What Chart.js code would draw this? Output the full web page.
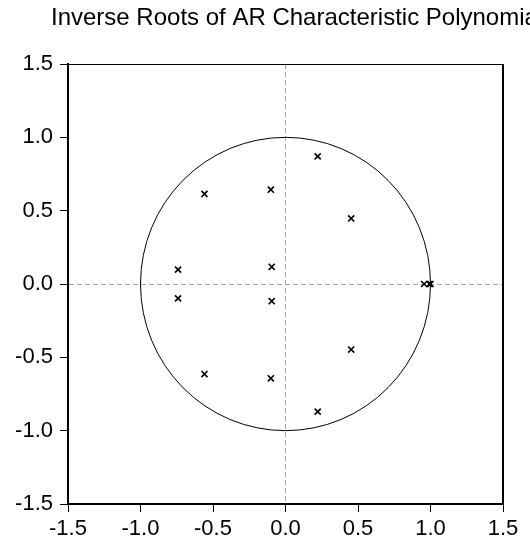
<!DOCTYPE html>
<html>
<head>
    <title>Inverse Roots of AR Characteristic Polynomial</title>
    <script src="https://cdn.jsdelivr.net/npm/chart.js"></script>
    <style>
        body {
            margin: 0;
            padding: 0;
            background-color: #fff;
        }

        #box {
            width: 530px;
            height: 543px;
            position: relative;
        }
    </style>
</head>
<body>
    <div id="box">
        <canvas id="myChart"></canvas>
    </div>

    <script>
        var titulo = 'Inverse Roots of AR Characteristic Polynomial';

        // parte real e imaginaria das raizes inversas
        var rootRe = [0.222, 0.222, -0.559, -0.559, -0.101, -0.101, -0.741, -0.741, -0.095, -0.095, 0.453, 0.453, 0.956, 1.0, 0.993];
        var rootIm = [0.870, -0.870, 0.614, -0.614, 0.643, -0.643, 0.098, -0.098, 0.117, -0.117, 0.447, -0.447, 0.0, 0.0, 0.0];

        var tickValues = [-1.5, -1.0, -0.5, 0.0, 0.5, 1.0, 1.5];

        var pontos = [];
        for (var i = 0; i < rootRe.length; i++) {
            pontos.push({ x: rootRe[i], y: rootIm[i] });
        }

        var fonte = "'Liberation Sans', Arial, sans-serif";

        // titulo, moldura e circulo unitario
        var extras = {
            id: 'extras',
            beforeDatasetsDraw: function (chart) {
                var ctx = chart.ctx;
                var sx = chart.scales.x;
                var sy = chart.scales.y;
                var cx = sx.getPixelForValue(0);
                var cy = sy.getPixelForValue(0);
                var rx = sx.getPixelForValue(1) - cx;
                var ry = cy - sy.getPixelForValue(1);
                ctx.save();
                ctx.strokeStyle = '#000';
                ctx.lineWidth = 1;
                ctx.beginPath();
                ctx.ellipse(cx, cy, rx, ry, 0, 0, Math.PI * 2);
                ctx.stroke();
                ctx.restore();
            },
            afterDraw: function (chart) {
                var ctx = chart.ctx;
                var a = chart.chartArea;
                ctx.save();
                ctx.strokeStyle = '#000';
                ctx.lineWidth = 1;
                ctx.beginPath();
                ctx.moveTo(a.left, a.top + 0.5);
                ctx.lineTo(a.right, a.top + 0.5);
                ctx.stroke();
                ctx.lineWidth = 2;
                ctx.beginPath();
                ctx.moveTo(a.right, a.top);
                ctx.lineTo(a.right, a.bottom);
                ctx.stroke();

                ctx.fillStyle = '#000';
                ctx.font = '24px ' + fonte;
                ctx.textAlign = 'left';
                ctx.textBaseline = 'alphabetic';
                ctx.fillText(titulo, 51, 25);
                ctx.restore();
            }
        };

        function eixo(tamanho) {
            return {
                type: 'linear',
                min: -1.5,
                max: 1.5,
                afterBuildTicks: function (s) {
                    s.ticks = tickValues.map(function (v) { return { value: v }; });
                },
                grid: {
                    color: function (c) {
                        return c.tick && c.tick.value === 0 ? '#a6a6a6' : 'rgba(0,0,0,0)';
                    },
                    lineWidth: 1,
                    tickColor: '#000',
                    tickWidth: 1,
                    tickLength: 8
                },
                border: {
                    display: true,
                    color: '#000',
                    width: 2,
                    dash: [5, 3]
                },
                ticks: {
                    autoSkip: false,
                    maxRotation: 0,
                    color: '#000',
                    padding: tamanho,
                    font: { family: fonte, size: 22 },
                    callback: function (v) { return Number(v).toFixed(1); }
                }
            };
        }

        var eixoX = eixo(4);
        eixoX.afterFit = function (s) { s.height = 39; };
        var eixoY = eixo(7);
        eixoY.afterFit = function (s) { s.width = 68; };

        var ctx = document.getElementById('myChart').getContext('2d');
        var myChart = new Chart(ctx, {
            type: 'scatter',
            data: {
                datasets: [{
                    label: 'Inverse roots',
                    data: pontos,
                    pointStyle: 'crossRot',
                    pointRadius: 4.3,
                    pointBorderWidth: 1.6,
                    borderColor: '#000',
                    backgroundColor: '#000'
                }]
            },
            options: {
                responsive: true,
                maintainAspectRatio: false,
                animation: false,
                layout: {
                    padding: { top: 64, right: 27, bottom: 0, left: 0 }
                },
                plugins: {
                    legend: { display: false },
                    tooltip: { enabled: false },
                    title: { display: false }
                },
                scales: {
                    x: eixoX,
                    y: eixoY
                }
            },
            plugins: [extras]
        });
    </script>
</body>
</html>
